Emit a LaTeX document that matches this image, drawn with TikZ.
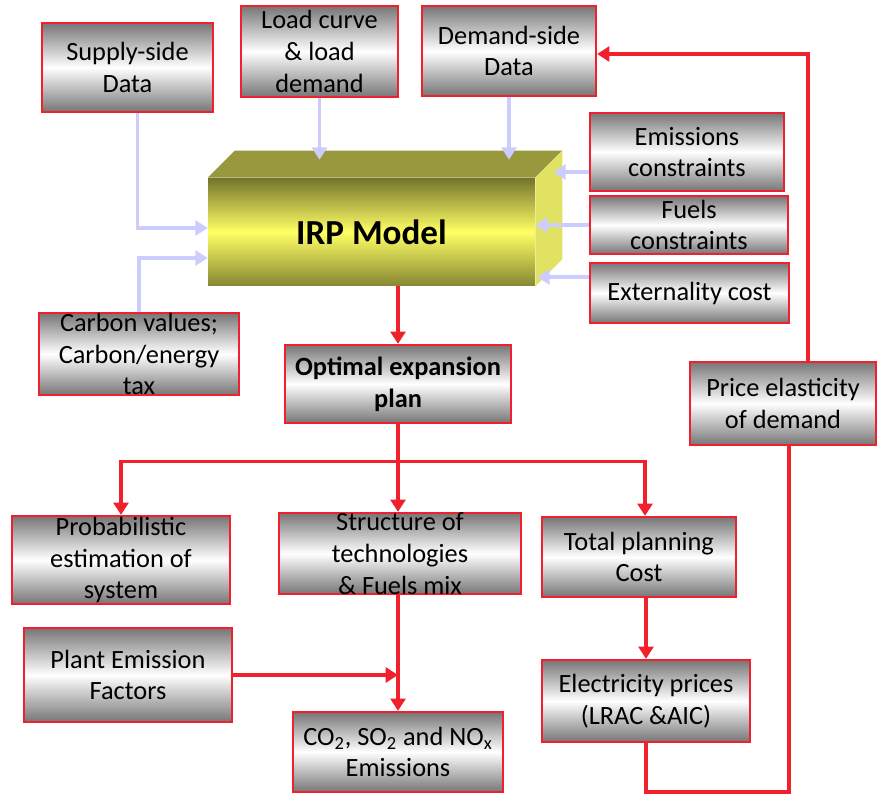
\documentclass[tikz,border=0pt]{standalone}
\usepackage{fontspec}
\setmainfont{Carlito}
\usetikzlibrary{positioning, arrows.meta, calc, shapes}

\definecolor{boxred}{RGB}{240,32,45}
\definecolor{boxgray}{RGB}{118,118,118}
\definecolor{inlav}{RGB}{204,204,255}
\definecolor{olivedark}{RGB}{116,116,46}
\definecolor{olivelow}{RGB}{134,134,52}
\definecolor{olivetop}{RGB}{152,152,62}
\definecolor{oliveside}{RGB}{226,226,98}
\definecolor{irpyellow}{RGB}{255,255,100}

\begin{document}
\begin{tikzpicture}[
    x=0.02cm, y=-0.02cm,
    box/.style={
        rectangle,
        draw=boxred,
        line width=1.3pt,
        top color=boxgray,
        bottom color=boxgray,
        middle color=white,
        align=center,
        inner xsep=2pt,
        inner ysep=-4pt,
        font=\fontsize{15}{18}\selectfont
    },
    boldbox/.style={
        box,
        font=\fontsize{15}{18}\selectfont\bfseries
    },
    irpface/.style={
        rectangle,
        top color=olivedark,
        bottom color=olivelow,
        middle color=irpyellow,
        font=\fontsize{20}{24}\selectfont\bfseries
    },
    inarrow/.style={
        -{Triangle[length=7pt,width=8.5pt]},
        draw=inlav,
        line width=2.2pt
    },
    redline/.style={
        draw=boxred,
        line width=1.8pt
    },
    redarrow/.style={
        redline,
        -{Triangle[length=7pt,width=8.5pt]}
    }
]
    \useasboundingbox (0,0) rectangle (877,794);

    % --- IRP model block ---
    \node[irpface, minimum width=6.54cm, minimum height=2.16cm] (irp) at (371.5,232) {IRP Model};
    \fill[olivetop] (irp.north west) -- ++(27,-27) -- ($(irp.north east)+(27,-27)$) -- (irp.north east) -- cycle;
    \fill[oliveside] (irp.north east) -- ++(27,-27) -- ($(irp.south east)+(27,-27)$) -- (irp.south east) -- cycle;
    \coordinate (irptop) at ($(irp.north)+(0,-18)$);
    \coordinate (irpside) at ($(irp.east)+(18,0)$);

    % --- Inputs ---
    \node[box, minimum width=3.42cm, minimum height=1.78cm] (supply) at (127.5,67.5) {Supply-side\\Data};
    \node[box, minimum width=3.14cm, minimum height=1.82cm] (load) at (319.5,51.5) {Load curve\\\& load\\demand};
    \node[box, minimum width=3.48cm, minimum height=1.80cm] (demand) at (509,51) {Demand-side\\Data};
    \node[box, minimum width=3.88cm, minimum height=1.56cm] (emis) at (687,152) {Emissions\\constraints};
    \node[box, minimum width=3.96cm, minimum height=1.16cm] (fuels) at (689,225) {Fuels\\constraints};
    \node[box, minimum width=3.98cm, minimum height=1.20cm] (extcost) at (689.5,293) {Externality cost};
    \node[box, minimum width=4.00cm, minimum height=1.64cm] (carbon) at (139,354) {Carbon values;\\Carbon/energy\\tax};

    \draw[inarrow] ([xshift=0.2cm]supply.south) |- ([yshift=0.08cm]irp.west);
    \draw[inarrow] (carbon.north) |- ([yshift=-0.52cm]irp.west);
    \draw[inarrow] (load.south) -- (load.south |- irptop);
    \draw[inarrow] (demand.south) -- (demand.south |- irptop);
    \draw[inarrow] ($(emis.west)+(0,20)$) -- ($(irpside |- emis.west)+(0,20)$);
    \draw[inarrow] (fuels.west) -- (fuels.west -| irp.east);
    \draw[inarrow] ($(extcost.west)+(0,-16)$) -- ($(irp.east |- extcost.west)+(2,-16)$);

    % --- Outputs ---
    \node[boldbox, minimum width=4.52cm, minimum height=1.56cm] (opt) at (398,384) {Optimal expansion\\plan};
    \node[box, minimum width=3.72cm, minimum height=1.66cm] (price) at (783,403.5) {Price elasticity\\of demand};
    \node[box, minimum width=4.36cm, minimum height=1.76cm] (prob) at (121,560) {Probabilistic\\estimation of\\system};
    \node[box, minimum width=4.84cm, minimum height=1.62cm] (struct) at (400,553.5) {Structure of\\technologies\\\& Fuels mix};
    \node[box, minimum width=3.88cm, minimum height=1.60cm] (total) at (639,557) {Total planning\\Cost};
    \node[box, minimum width=4.16cm, minimum height=1.88cm] (plant) at (128,675) {Plant Emission\\Factors};
    \node[box, minimum width=4.20cm, minimum height=1.60cm] (co2) at (398,752) {CO\textsubscript{2}, SO\textsubscript{2} and NO\textsubscript{x}\\Emissions};
    \node[box, minimum width=4.16cm, minimum height=1.64cm] (elec) at (646,701) {Electricity prices\\(LRAC \&AIC)};

    \draw[redarrow] (opt.north |- irp.south) -- (opt.north);
    \draw[redarrow] (opt.south) -- (opt.south |- struct.north);
    \coordinate (split) at ($(opt.south)+(0,37)$);
    \draw[redarrow] (split) -| (prob.north);
    \draw[redarrow] (split) -| ([xshift=0.12cm]total.north);
    \draw[redarrow] (co2.north |- struct.south) -- (co2.north);
    \draw[redarrow] (plant.east) -- (plant.east -| co2.north);
    \draw[redarrow] (elec.north |- total.south) -- (elec.north);

    % price feedback loop
    \coordinate (loopbottom) at (789,792);
    \coordinate (looptop) at (808,54);
    \draw[redline] (elec.south) |- (loopbottom) -- (loopbottom |- price.south);
    \draw[redarrow] (looptop |- price.north) -- (looptop) -- (looptop -| demand.east);

\end{tikzpicture}
\end{document}
